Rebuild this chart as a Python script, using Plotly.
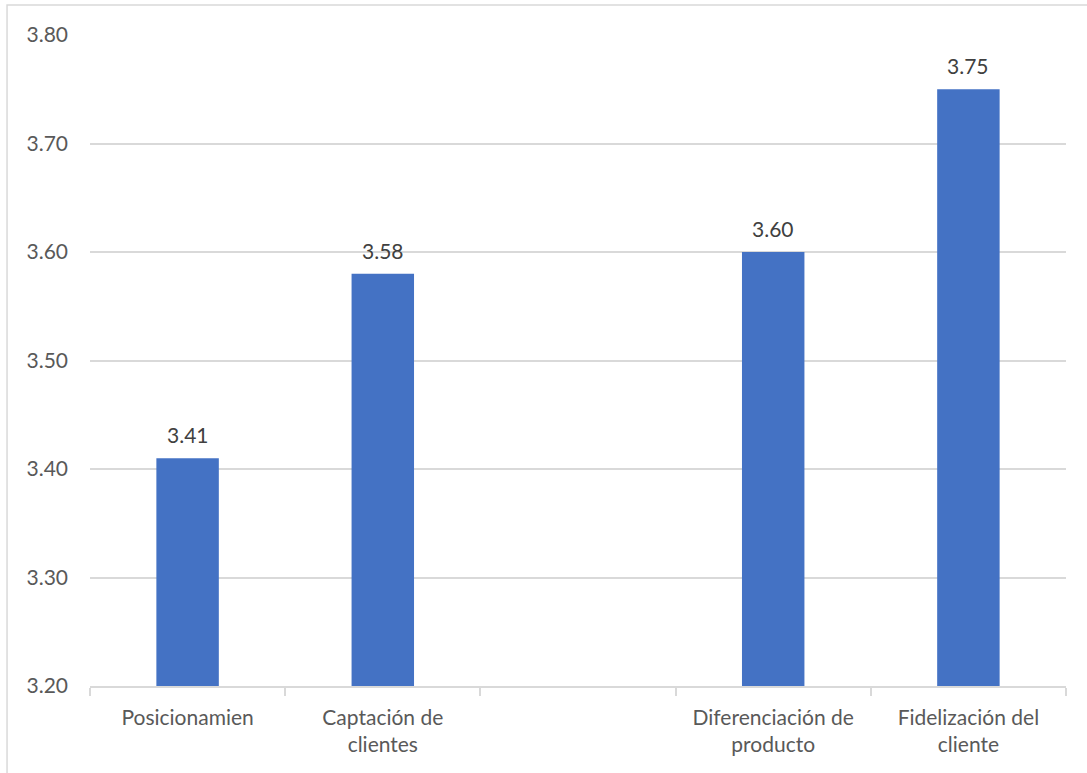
import plotly.graph_objects as go

# Category slots (the third slot is intentionally left empty)
categories = ["Posicionamien", "Captación de clientes", " ", "Diferenciación de producto", "Fidelización del cliente"]
tick_labels = ["Posicionamien", "Captación de<br>clientes", "", "Diferenciación de<br>producto", "Fidelización del<br>cliente"]
values = [3.41, 3.58, None, 3.60, 3.75]

y_ticks = [3.20, 3.30, 3.40, 3.50, 3.60, 3.70, 3.80]

FONT = "Lato, Carlito, Calibri, sans-serif"
GRID = "#d9d9d9"
TEXT = "#595959"
SIZE = 21

fig = go.Figure()
fig.add_trace(go.Bar(
    x=categories,
    y=values,
    marker=dict(color="#4472C4", line=dict(width=0)),
    width=0.32,
    hoverinfo="x+y",
))

# Value labels above each bar
for c, v in zip(categories, values):
    if v is None:
        continue
    fig.add_annotation(
        x=c, y=v, text=f"{v:.2f}", showarrow=False,
        yanchor="bottom", yshift=9,
        font=dict(family=FONT, size=SIZE, color="#404040"),
    )

# Outer chart frame
fig.add_shape(
    type="rect", xref="paper", yref="paper",
    x0=-0.085, x1=1.05, y0=-0.2, y1=1.046,
    line=dict(color=GRID, width=1.5), fillcolor="rgba(0,0,0,0)", layer="below",
)

fig.update_layout(
    width=1087, height=773,
    margin=dict(l=90, r=21, t=35, b=87),
    paper_bgcolor="white", plot_bgcolor="white",
    showlegend=False,
    font=dict(family=FONT, size=SIZE, color=TEXT),
    bargap=0.68,
)
fig.update_xaxes(
    type="category",
    tickmode="array", tickvals=categories, ticktext=tick_labels,
    tickson="boundaries", ticks="outside", ticklen=8, tickcolor=GRID, tickwidth=1.5,
    showline=True, linecolor=GRID, linewidth=1.5,
    showgrid=False, ticklabelstandoff=12,
    tickfont=dict(family=FONT, size=SIZE, color=TEXT),
)
fig.update_yaxes(
    range=[3.20, 3.80], tickmode="array", tickvals=y_ticks,
    ticktext=[f"{t:.2f}" for t in y_ticks],
    showgrid=True, gridcolor=GRID, gridwidth=1.5,
    zeroline=False, showline=False, ticks="",
    ticklabelstandoff=21,
    tickfont=dict(family=FONT, size=SIZE, color=TEXT),
)

fig.write_html("out.html")
